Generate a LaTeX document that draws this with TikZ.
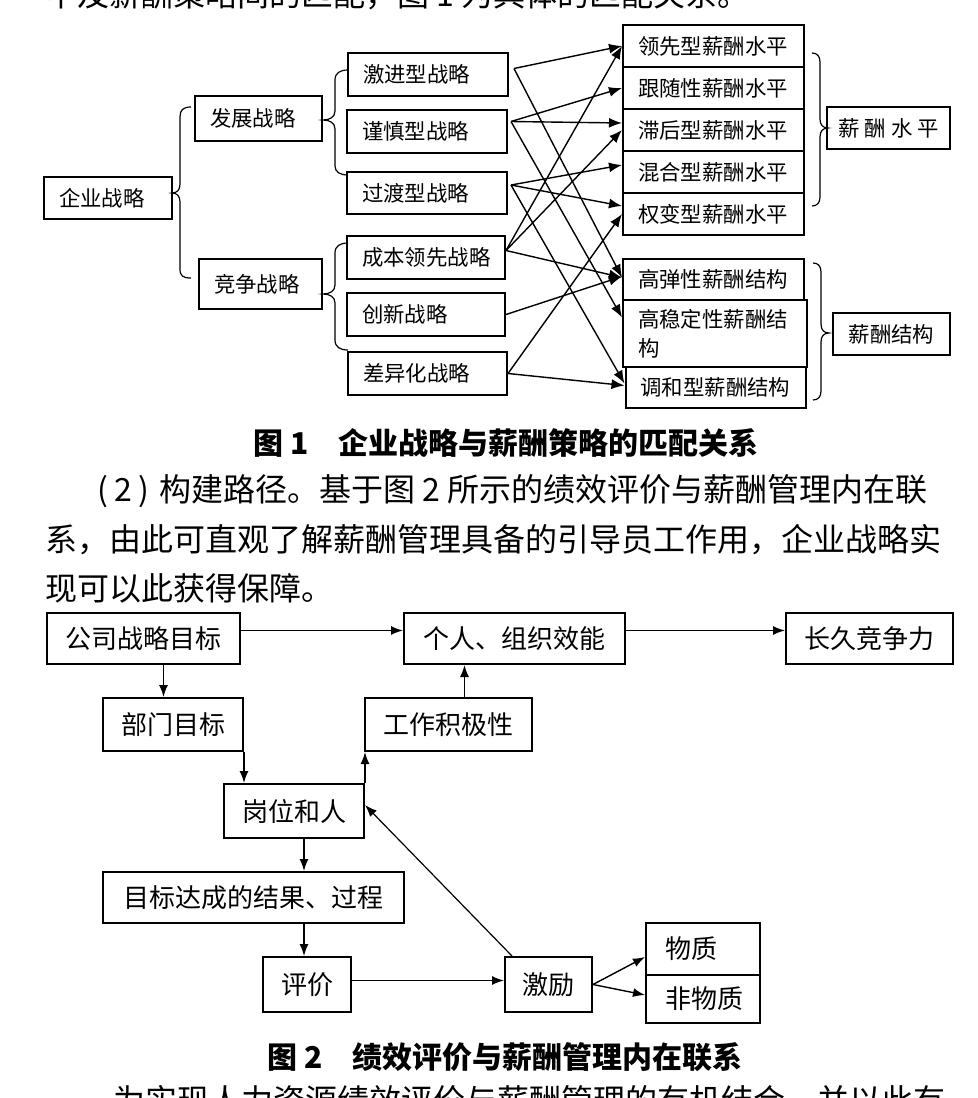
\documentclass[tikz,border=0pt]{standalone}
\usepackage{fontspec}
\setmainfont{Noto Sans CJK SC}
\usetikzlibrary{arrows.meta}

\begin{document}
\begin{tikzpicture}[x=0.5pt,y=-0.5pt,
    sbox/.style={draw,line width=1pt,inner xsep=7.5pt,inner ysep=0pt,align=left,font=\fontsize{10.7pt}{14.5pt}\selectfont},
    gbox/.style={draw,line width=1pt,inner sep=0pt,align=center,font=\fontsize{13pt}{15pt}\selectfont},
    link/.style={-{Latex[length=6.5pt,width=5pt]},line width=0.7pt},
    flow/.style={-{Latex[length=6pt,width=4.5pt]},line width=0.7pt},
    brace/.style={line width=0.6pt},
    para/.style={anchor=west,inner sep=0pt,font=\fontsize{16pt}{18pt}\selectfont},
    capt/.style={anchor=west,inner sep=0pt,font=\bfseries\fontsize{15pt}{17pt}\selectfont}]
    \clip (0,0) rectangle (978,1098);
    \fill[white] (0,0) rectangle (978,1098);
    %text above
    \node[para] (top) at (45,-5) {中及薪酬策略间的匹配，图 1 为具体的匹配关系。};
    %figure 1, strategies
    \node[sbox,text width=49pt,minimum height=21pt] (qy) at (108,198) {企业战略};
    \node[sbox,text width=48.5pt,minimum height=22.5pt] (fz) at (258.5,118.5) {发展战略};
    \node[sbox,text width=46.5pt,minimum height=25pt] (jz) at (260.5,284) {竞争战略};
    \node[sbox,text width=65pt,minimum height=21.5pt] (jj) at (428,74.5) {激进型战略};
    \node[sbox,text width=65pt,minimum height=21.5pt] (js) at (427,131.5) {谨慎型战略};
    \node[sbox,text width=65pt,minimum height=21pt] (gd) at (427,193) {过渡型战略};
    \node[sbox,text width=64pt,minimum height=21.5pt] (cb) at (426,257.5) {成本领先战略};
    \node[sbox,text width=64pt,minimum height=21.5pt] (cx) at (426,314.5) {创新战略};
    \node[sbox,text width=64.5pt,minimum height=21.5pt] (cy) at (427.5,373.5) {差异化战略};
    %pay level and structure
    \node[sbox,text width=75.5pt,minimum height=21pt] (lxs) at (713.5,46) {领先型薪酬水平};
    \node[sbox,text width=75.5pt,minimum height=21pt] (gss) at (713.5,88) {跟随性薪酬水平};
    \node[sbox,text width=75.5pt,minimum height=21pt] (zhs) at (713.5,130) {滞后型薪酬水平};
    \node[sbox,text width=75.5pt,minimum height=21pt] (hhs) at (713.5,172) {混合型薪酬水平};
    \node[sbox,text width=75.5pt,minimum height=21pt] (qbs) at (713.5,214) {权变型薪酬水平};
    \node[sbox,text width=75.5pt,minimum height=20.5pt] (gtj) at (713.5,279.5) {高弹性薪酬结构};
    \node[sbox,text width=77pt,minimum height=33.5pt] (gwj) at (715,333.5) {高稳定性薪酬结\\构};
    \node[sbox,text width=75pt,minimum height=20.5pt] (thj) at (715.5,387.5) {调和型薪酬结构};
    \node[sbox,align=center,inner xsep=3pt,text width=55.5pt,minimum height=21pt] (sp) at (888.5,128) {薪\hspace{2.5pt}酬\hspace{2.5pt}水\hspace{2.5pt}平};
    \node[sbox,align=center,inner xsep=3pt,text width=52.5pt,minimum height=21pt] (sj) at (891.5,334) {薪酬结构};
    %braces
    \draw[brace] (191,107) .. controls (183,107) and (180,110) .. (180,117) -- (180,184) .. controls (180,190) and (177,193) .. (172,193) .. controls (177,193) and (180,196) .. (180,202) -- (180,269) .. controls (180,276) and (183,278) .. (191,278);
    \draw[brace] (348,70) .. controls (340,70) and (335,73) .. (335,80) -- (335,111) .. controls (335,117) and (330,120) .. (323,120) .. controls (330,120) and (335,123) .. (335,129) -- (335,166) .. controls (335,172) and (340,175) .. (348,175);
    \draw[brace] (348,243) .. controls (340,243) and (335,246) .. (335,253) -- (335,285) .. controls (335,291) and (330,294) .. (323,294) .. controls (330,294) and (335,297) .. (335,303) -- (335,340) .. controls (335,347) and (340,350) .. (348,350);
    \draw[brace] (812,53) .. controls (817,53) and (820,56) .. (820,62) -- (820,119) .. controls (820,125) and (823,128) .. (828,128) .. controls (823,128) and (820,131) .. (820,137) -- (820,197) .. controls (820,203) and (817,206) .. (812,206);
    \draw[brace] (813,263) .. controls (818,263) and (821,266) .. (821,272) -- (821,324) .. controls (821,330) and (824,333) .. (829,333) .. controls (824,333) and (821,336) .. (821,342) -- (821,391) .. controls (821,397) and (818,400) .. (813,400);
    %matching arrows
    \draw[link] ([xshift=2.5pt,yshift=3pt]jj.east) -- (lxs.west);
    \draw[link] ([xshift=2.5pt,yshift=3pt]jj.east) -- ([yshift=1pt]gtj.west);
    \draw[link] ([xshift=1.5pt,yshift=5pt]js.east) -- (gss.west);
    \draw[link] ([xshift=1.5pt,yshift=5pt]js.east) -- ([yshift=3.5pt]zhs.west);
    \draw[link] ([xshift=1.5pt,yshift=5pt]js.east) -- ([yshift=8pt]gwj.west);
    \draw[link] ([xshift=1.5pt,yshift=4pt]gd.east) -- ([yshift=3.5pt]hhs.west);
    \draw[link] ([xshift=1.5pt,yshift=4pt]gd.east) -- ([yshift=4pt]qbs.west);
    \draw[link] ([xshift=1.5pt,yshift=4pt]gd.east) -- ([yshift=2pt]thj.west);
    \draw[link] ([yshift=3.5pt]cb.east) -- (lxs.west);
    \draw[link] ([yshift=3.5pt]cb.east) -- (zhs.west);
    \draw[link] ([yshift=3.5pt]cb.east) -- ([yshift=1pt]gtj.west);
    \draw[link] (cx.east) -- ([yshift=1.5pt]gtj.west);
    \draw[link] (cy.east) -- (qbs.west);
    \draw[link] (cy.east) -- ([yshift=1pt]thj.west);
    %captions and text
    \node[capt] (cap1) at (253,443) {图 1\hspace{1em}企业战略与薪酬策略的匹配关系};
    \node[para] (p1) at (97,491) {(\hspace{0.2em}2\hspace{0.2em})\hspace{0.3em}构建路径。基于图 2 所示的绩效评价与薪酬管理内在联};
    \node[para] (p2) at (45,540) {系，由此可直观了解薪酬管理具备的引导员工作用，企业战略实};
    \node[para] (p3) at (45,588) {现可以此获得保障。};
    %figure 2
    \node[gbox,minimum width=96.5pt,minimum height=25.5pt] (gsmb) at (143.5,638.5) {公司战略目标};
    \node[gbox,minimum width=110.5pt,minimum height=25.5pt] (grxn) at (514.5,638.5) {个人、组织效能};
    \node[gbox,minimum width=83.5pt,minimum height=25.5pt] (cjjz) at (869.5,638.5) {长久竞争力};
    \node[gbox,minimum width=70pt,minimum height=26.5pt] (bmmb) at (173,724.5) {部门目标};
    \node[gbox,minimum width=83.5pt,minimum height=26.5pt] (gzjj) at (448.5,724.5) {工作积极性};
    \node[gbox,minimum width=70pt,minimum height=27pt] (gwhr) at (294,811) {岗位和人};
    \node[gbox,minimum width=150.5pt,minimum height=25.5pt] (mbdc) at (253.5,897.5) {目标达成的结果、过程};
    \node[gbox,minimum width=44pt,minimum height=27.5pt] (pj) at (307,984.5) {评价};
    \node[gbox,minimum width=43.5pt,minimum height=27.5pt] (jl) at (548.5,984.5) {激励};
    \node[gbox,align=left,inner xsep=9.5pt,text width=38pt,minimum height=26pt] (wz) at (703,949) {物质};
    \node[gbox,align=left,inner xsep=9.5pt,text width=38pt,minimum height=24pt] (fwz) at (703,999) {非物质};
    %arrows
    \draw[flow] ([yshift=4pt]gsmb.east) -- ([yshift=4pt]grxn.west);
    \draw[flow] ([yshift=4pt]grxn.east) -- ([yshift=4pt]cjjz.west);
    \draw[flow] ([xshift=10pt]gsmb.south) -- ([xshift=10pt]gsmb.south |- bmmb.north);
    \draw[flow] ([xshift=8pt]gzjj.north) -- ([xshift=8pt]gzjj.north |- grxn.south);
    \draw[flow] (bmmb.south east) -- (bmmb.south east |- gwhr.north);
    \draw[flow] (gwhr.north east) -- (gwhr.north east |- gzjj.south);
    \draw[flow] ([xshift=5pt]gwhr.south) -- ([xshift=5pt]gwhr.south |- mbdc.north);
    \draw[flow] ([xshift=5pt]gwhr.south |- mbdc.south) -- ([xshift=5pt]gwhr.south |- pj.north);
    \draw[flow] ([yshift=2pt]pj.east) -- ([yshift=2pt]jl.west);
    \draw[flow,line width=0.6pt] ([xshift=4pt]jl.north west) -- ([yshift=3pt]gwhr.east);
    \draw[flow] (jl.east) -- ([yshift=-4pt]wz.west);
    \draw[flow] (jl.east) -- ([yshift=2pt]fwz.west);
    %captions and text below
    \node[capt] (cap2) at (267,1057) {图 2\hspace{1em}绩效评价与薪酬管理内在联系};
    \node[para] (bot) at (113,1101) {为实现人力资源绩效评价与薪酬管理的有机结合，并以此有};
\end{tikzpicture}
\end{document}
